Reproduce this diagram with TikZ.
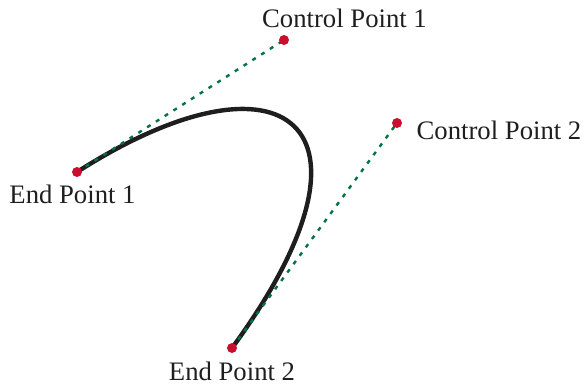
\documentclass[tikz,border=0pt]{standalone}
\usepackage{fontspec}
\setmainfont{Liberation Serif}
\definecolor{ptred}{RGB}{200,16,46}
\definecolor{ctlgreen}{RGB}{0,115,65}
\definecolor{curveblack}{RGB}{30,30,30}
\begin{document}
\begin{tikzpicture}[x=0.5pt,y=-0.5pt,
  pt/.style={circle,fill=ptred,inner sep=0pt,minimum size=5pt},
  lbl/.style={anchor=base,inner sep=0pt,font=\fontsize{13.35}{16}\selectfont,text=black!88},
  ctl/.style={draw=ctlgreen,line width=1.2pt,dash pattern=on 2pt off 3.2pt},
  bez/.style={draw=curveblack,line width=2.2pt}]
\useasboundingbox (0,0) rectangle (585,388);
\coordinate (e1) at (77,172);
\coordinate (c1) at (284,40);
\coordinate (c2) at (397,123);
\coordinate (e2) at (232,348);
\draw[bez] (e1) .. controls (c1) and (c2) .. (e2);
\draw[ctl] (e1) -- (c1);
\draw[ctl] (e2) -- (c2);
\node[pt] (pe1) at (e1) {};
\node[pt] (pc1) at (c1) {};
\node[pt] (pc2) at (c2) {};
\node[pt] (pe2) at (e2) {};
\node[lbl] (le1) at (72.5,203) {End Point 1};
\node[lbl] (lc1) at (344.5,27) {Control Point 1};
\node[lbl] (lc2) at (499,139) {Control Point 2};
\node[lbl] (le2) at (232,380) {End Point 2};
\end{tikzpicture}
\end{document}
